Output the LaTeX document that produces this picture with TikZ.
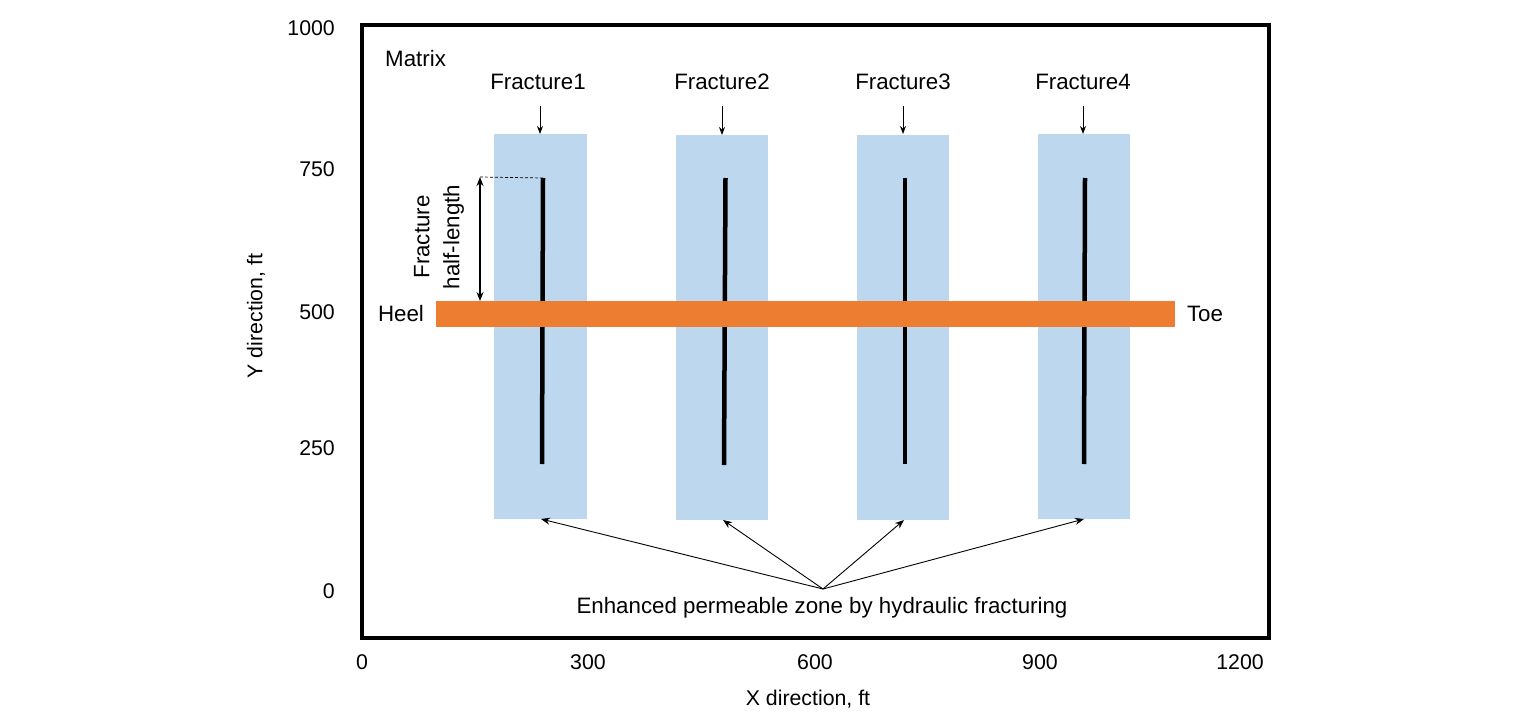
\documentclass[tikz,border=0pt]{standalone}
\usepackage{fontspec}
\setmainfont{Liberation Sans}
\usetikzlibrary{arrows.meta}
\definecolor{zoneblue}{HTML}{BDD7EE}
\definecolor{wellorange}{HTML}{ED7D31}
\tikzset{
  zone/.style={fill=zoneblue, draw=none, minimum width=92pt, minimum height=385pt, inner sep=0pt, outer sep=0pt},
  frac/.style={line width=4.5pt, black},
  lbl/.style={font=\fontsize{22.3}{25}\selectfont, inner sep=0pt},
  tick/.style={font=\fontsize{21.3}{24}\selectfont, inner sep=0pt},
  ptr/.style={-{Stealth[length=9pt,width=7pt]}, line width=0.9pt},
}
\begin{document}
\begin{tikzpicture}[x=1pt,y=-1pt]
\useasboundingbox (0,0) rectangle (1535,717);
% frame
\draw[line width=4pt] (361.5,25) rectangle (1269,638);
% zones
\node[zone, minimum width=93pt] (z1) at (540.5,326.5) {};
\node[zone] (z2) at (722,327.5) {};
\node[zone] (z3) at (903,327) {};
\node[zone] (z4) at (1084,326.5) {};
% fractures
\coordinate (f1t) at (543,178); \coordinate (f1b) at (542,464);
\coordinate (f2t) at (725.5,178); \coordinate (f2b) at (724,465);
\coordinate (f3t) at (905,178); \coordinate (f3b) at (905,464);
\coordinate (f4t) at (1085,178); \coordinate (f4b) at (1084,464);
\draw[frac] (f1t) -- (f1b);
\draw[frac] (f2t) -- (f2b);
\draw[frac] (f3t) -- (f3b);
\draw[frac] (f4t) -- (f4b);
% well
\node[fill=wellorange, minimum width=739pt, minimum height=26pt, inner sep=0pt] (well) at (805.5,314) {};
\node[lbl] (heel) at (401,314) {Heel};
\node[lbl] (toe) at (1205,314) {Toe};
% labels
\node[lbl, anchor=west] (matrix) at (385,59) {Matrix};
\node[lbl] (l1) at (538,82) {Fracture1};
\node[lbl] (l2) at (722,82) {Fracture2};
\node[lbl] (l3) at (903,82) {Fracture3};
\node[lbl] (l4) at (1083,82) {Fracture4};
\coordinate (a1) at (540,106); \coordinate (b1) at (540,134);
\coordinate (a2) at (722,106); \coordinate (b2) at (722,135);
\coordinate (a3) at (903,106); \coordinate (b3) at (903,134);
\coordinate (a4) at (1083,106); \coordinate (b4) at (1083,134);
\draw[ptr, -{Stealth[length=8pt,width=6pt]}] (a1) -- (b1);
\draw[ptr, -{Stealth[length=8pt,width=6pt]}] (a2) -- (b2);
\draw[ptr, -{Stealth[length=8pt,width=6pt]}] (a3) -- (b3);
\draw[ptr, -{Stealth[length=8pt,width=6pt]}] (a4) -- (b4);
% half-length
\coordinate (hl1) at (480,177); \coordinate (hl2) at (480,301);
\draw[line width=1.3pt, {Stealth[length=9pt,width=7pt]}-{Stealth[length=9pt,width=7pt]}] (hl1) -- (hl2);
\draw[dashed, dash pattern=on 3pt off 2pt, line width=0.7pt] (hl1) -- (f1t);
\node[lbl, rotate=90, align=center, font=\fontsize{22.3}{30}\selectfont] (hltext) at (439,237) {Fracture\\half-length};
% enhanced zone pointers
\coordinate (src) at (823,589);
\coordinate (t1) at (541,519); \coordinate (t2) at (723,520);
\coordinate (t3) at (904,520); \coordinate (t4) at (1084,519);
\draw[ptr] (src) -- (t1);
\draw[ptr] (src) -- (t2);
\draw[ptr] (src) -- (t3);
\draw[ptr] (src) -- (t4);
\node[lbl] (ezone) at (822,608) {Enhanced permeable zone by hydraulic fracturing};
% axes
\node[tick, anchor=east] (y1000) at (335,28) {1000};
\node[tick, anchor=east] (y750) at (335,169) {750};
\node[tick, anchor=east] (y500) at (335,312) {500};
\node[tick, anchor=east] (y250) at (335,448) {250};
\node[tick, anchor=east] (y0) at (335,591) {0};
\node[tick] (x0) at (362,662) {0};
\node[tick] (x300) at (588,662) {300};
\node[tick] (x600) at (815,662) {600};
\node[tick] (x900) at (1040,662) {900};
\node[tick] (x1200) at (1240,662) {1200};
\node[tick] (xlab) at (808,699) {X direction, ft};
\node[tick, rotate=90] (ylab) at (256,316) {Y direction, ft};
\end{tikzpicture}
\end{document}
